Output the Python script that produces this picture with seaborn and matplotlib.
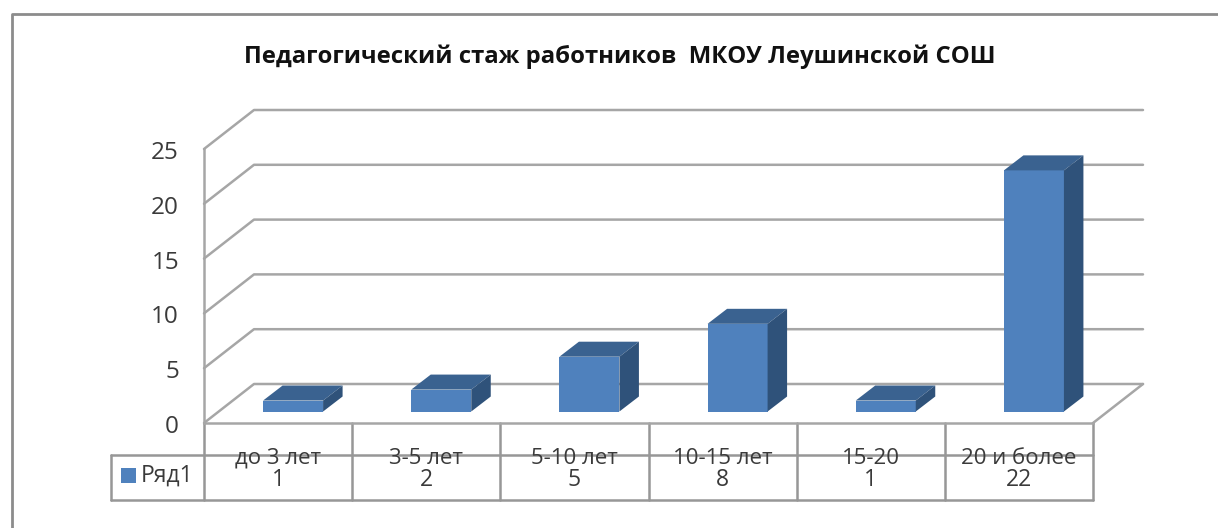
import numpy as np
import pandas as pd
import matplotlib
matplotlib.use("Agg")
import matplotlib.pyplot as plt
from matplotlib.patches import Polygon, Rectangle
from matplotlib.transforms import ScaledTranslation
import seaborn as sns

categories = ["до 3 лет", "3-5 лет", "5-10 лет", "10-15 лет", "15-20", "20 и более"]
values = [1, 2, 5, 8, 1, 22]
y_ticks = [0, 5, 10, 15, 20, 25]
series_name = "Ряд1"
title = "Педагогический стаж работников  МКОУ Леушинской СОШ"

FRONT = "#4f81bd"
TOP = "#3a6290"
SIDE = "#2f527a"
GRID = "#a6a6a6"
TEXT = "#3a3a3a"
W, H = 1218, 528

sns.set_theme(style="white")
plt.rcParams["font.family"] = ["Open Sans", "DejaVu Sans"]

fig = plt.figure(figsize=(W / 100, H / 100), dpi=100)

# overlay in pixels for frame, data table and legend cell
bg = fig.add_axes([0, 0, 1, 1], zorder=0)
bg.set_xlim(0, W)
bg.set_ylim(H, 0)
bg.axis("off")
bg.plot([11.5, 11.5, 1218], [528, 14, 14], color="#8c8c8c", lw=2)
bg.text(620, 57, title, ha="center", va="center", fontsize=17.2, fontweight="bold", color="#111111")

# table
for y in [455, 500]:
    bg.plot([111, 1093], [y, y], color="#979797", lw=1.8)
bg.plot([111, 111], [455, 500], color="#979797", lw=1.8)
for x in np.linspace(204, 1093, 7):
    bg.plot([x, x], [423, 500], color="#979797", lw=1.8)
bg.add_patch(Rectangle((120.5, 468), 15.5, 14.5, color=FRONT, lw=0))
bg.text(141, 476, series_name, ha="left", va="center", fontsize=16.5, color=TEXT)

# front plane of the 3D box
ax = fig.add_axes([204 / W, 1 - 423 / H, 889 / W, 274 / H], zorder=1)
ax.patch.set_alpha(0)
frame = pd.DataFrame({"category": categories, "value": values})
sns.barplot(data=frame, x="category", y="value", color=FRONT, saturation=1, width=0.405, ax=ax)
ax.set_xlim(-0.5, 5.5)
ax.set_ylim(0, 25)
ax.set_xlabel("")
ax.set_ylabel("")
ax.set_yticks(y_ticks)
ax.tick_params(axis="y", length=0, pad=18, labelsize=17.5, labelcolor=TEXT)
ax.tick_params(axis="x", length=0, pad=18, labelsize=16, labelcolor=TEXT)
for label in ax.get_yticklabels():
    label.set_transform(label.get_transform() + ScaledTranslation(0, -1 / 100, fig.dpi_scale_trans))
sns.despine(ax=ax, top=True, right=True)
for side in ["left", "bottom"]:
    ax.spines[side].set_color(GRID)
    ax.spines[side].set_linewidth(1.8)

# one pixel in data units
px = 6 / 889
py = 25 / 274

# walls
wall_dx, wall_dy = 50 * px, 39 * py
for v in y_ticks:
    ax.plot([-0.5, -0.5 + wall_dx, 5.5 + wall_dx], [v, v + wall_dy, v + wall_dy],
            color=GRID, lw=1.8, clip_on=False, zorder=1)
ax.plot([5.5, 5.5 + wall_dx], [0, wall_dy], color=GRID, lw=1.8, clip_on=False, zorder=1)

# shift the bars into the box and add their top and side faces
shift_x, shift_y = 15 * px, 11.5 * py
depth_x, depth_y = 19.5 * px, 15 * py
for bar in list(ax.patches):
    x0 = bar.get_x() + shift_x
    x1 = x0 + bar.get_width()
    y0 = shift_y
    y1 = bar.get_height() + shift_y
    bar.set_x(x0)
    bar.set_y(y0)
    bar.set_zorder(3)
    bar.set_linewidth(0)
    bar.set_clip_on(False)
    top = [(x0, y1), (x1, y1), (x1 + depth_x, y1 + depth_y), (x0 + depth_x, y1 + depth_y)]
    right = [(x1, y0), (x1, y1), (x1 + depth_x, y1 + depth_y), (x1 + depth_x, y0 + depth_y)]
    ax.add_patch(Polygon(top, color=TOP, lw=0, zorder=3, clip_on=False))
    ax.add_patch(Polygon(right, color=SIDE, lw=0, zorder=3, clip_on=False))

# values row of the table
for i, v in enumerate(values):
    ax.annotate(str(v), xy=(i, 0), xycoords=("data", "axes fraction"), xytext=(0, -57 * 0.72),
                textcoords="offset points", ha="center", va="center", fontsize=16.5, color=TEXT)

fig.savefig("out.png", dpi=100)
